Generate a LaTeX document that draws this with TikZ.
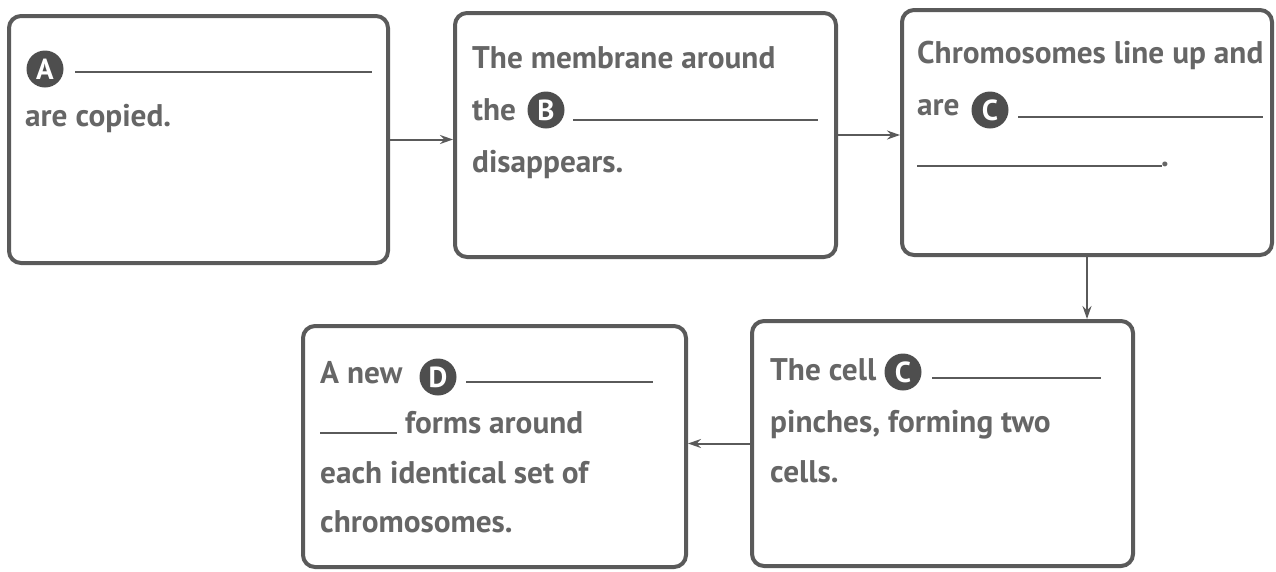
\documentclass[tikz,border=0pt]{standalone}
\usepackage{fontspec}
\setmainfont{PT Sans}
\usetikzlibrary{arrows.meta}
\definecolor{boxgray}{HTML}{5A5A5A}
\definecolor{txtgray}{HTML}{666666}
\definecolor{dotgray}{HTML}{4E4E4E}
\tikzset{
  stepbox/.style={draw=boxgray,line width=4pt,rounded corners=12pt,inner sep=0pt,outer sep=2pt},
  steptext/.style={anchor=base west,inner sep=0pt,text=txtgray,font=\fontsize{31.3}{52}\bfseries\selectfont},
  letterdot/.style={circle,fill=dotgray,minimum size=37pt,inner sep=0pt,text=white,font=\fontsize{29}{29}\bfseries\selectfont},
  blank/.style={draw=boxgray,line width=1.6pt},
  flow/.style={draw=boxgray,line width=2pt,-{Stealth[length=13pt,width=9pt]}}
}
\begin{document}
\begin{tikzpicture}[x=1pt,y=-1pt]
	\useasboundingbox (0,0) rectangle (1276,571);

	\node[stepbox,minimum width=379pt,minimum height=247pt] (s1) at (198.5,139.5) {};
	\node[stepbox,minimum width=381pt,minimum height=244pt] (s2) at (645.5,135) {};
	\node[stepbox,minimum width=370pt,minimum height=245pt] (s3) at (1087,132.5) {};
	\node[stepbox,minimum width=381pt,minimum height=245pt] (s4) at (942.5,443.5) {};
	\node[stepbox,minimum width=383pt,minimum height=241pt] (s5) at (494.5,446.5) {};

	% step 1
	\node[letterdot] (dA) at (45,69) {A};
	\draw[blank] (75,72) -- (372,72);
	\node[steptext] (t1) at (25,126) {are copied.};

	% step 2
	\node[steptext] (t2a) at (472,68) {The membrane around};
	\node[steptext] (t2b) at (472,120) {the};
	\node[letterdot] (dB) at (546,110) {B};
	\draw[blank] (573,120) -- (818,120);
	\node[steptext] (t2c) at (472,172) {disappears.};

	% step 3
	\node[steptext] (t3a) at (917,63) {Chromosomes line up and};
	\node[steptext] (t3b) at (917,115) {are};
	\node[letterdot] (dC) at (990,110) {C};
	\draw[blank] (1018,117) -- (1263,117);
	\draw[blank] (917,166) -- (1162,166);
	\node[steptext] (t3c) at (1161,166) {.};

	% step 4
	\node[steptext] (t4a) at (770,380) {The cell};
	\node[letterdot] (dC2) at (903,372) {C};
	\draw[blank] (932,378) -- (1101,378);
	\node[steptext] (t4b) at (770,432) {pinches, forming two};
	\node[steptext] (t4c) at (770,482) {cells.};

	% step 5
	\node[steptext] (t5a) at (320,383) {A new};
	\node[letterdot] (dD) at (438,377) {D};
	\draw[blank] (466,382) -- (653,382);
	\draw[blank] (320,433) -- (397,433);
	\node[steptext] (t5b) at (405,433) {forms around};
	\node[steptext] (t5c) at (320,483) {each identical set of};
	\node[steptext] (t5d) at (320,532) {chromosomes.};

	\draw[flow] (s1.east) -- (s1.east -| s2.west);
	\draw[flow] (s2.east) -- (s2.east -| s3.west);
	\draw[flow] (s3.south) -- (s3.south |- s4.north);
	\draw[flow] (s4.west) -- (s4.west -| s5.east);
\end{tikzpicture}
\end{document}
